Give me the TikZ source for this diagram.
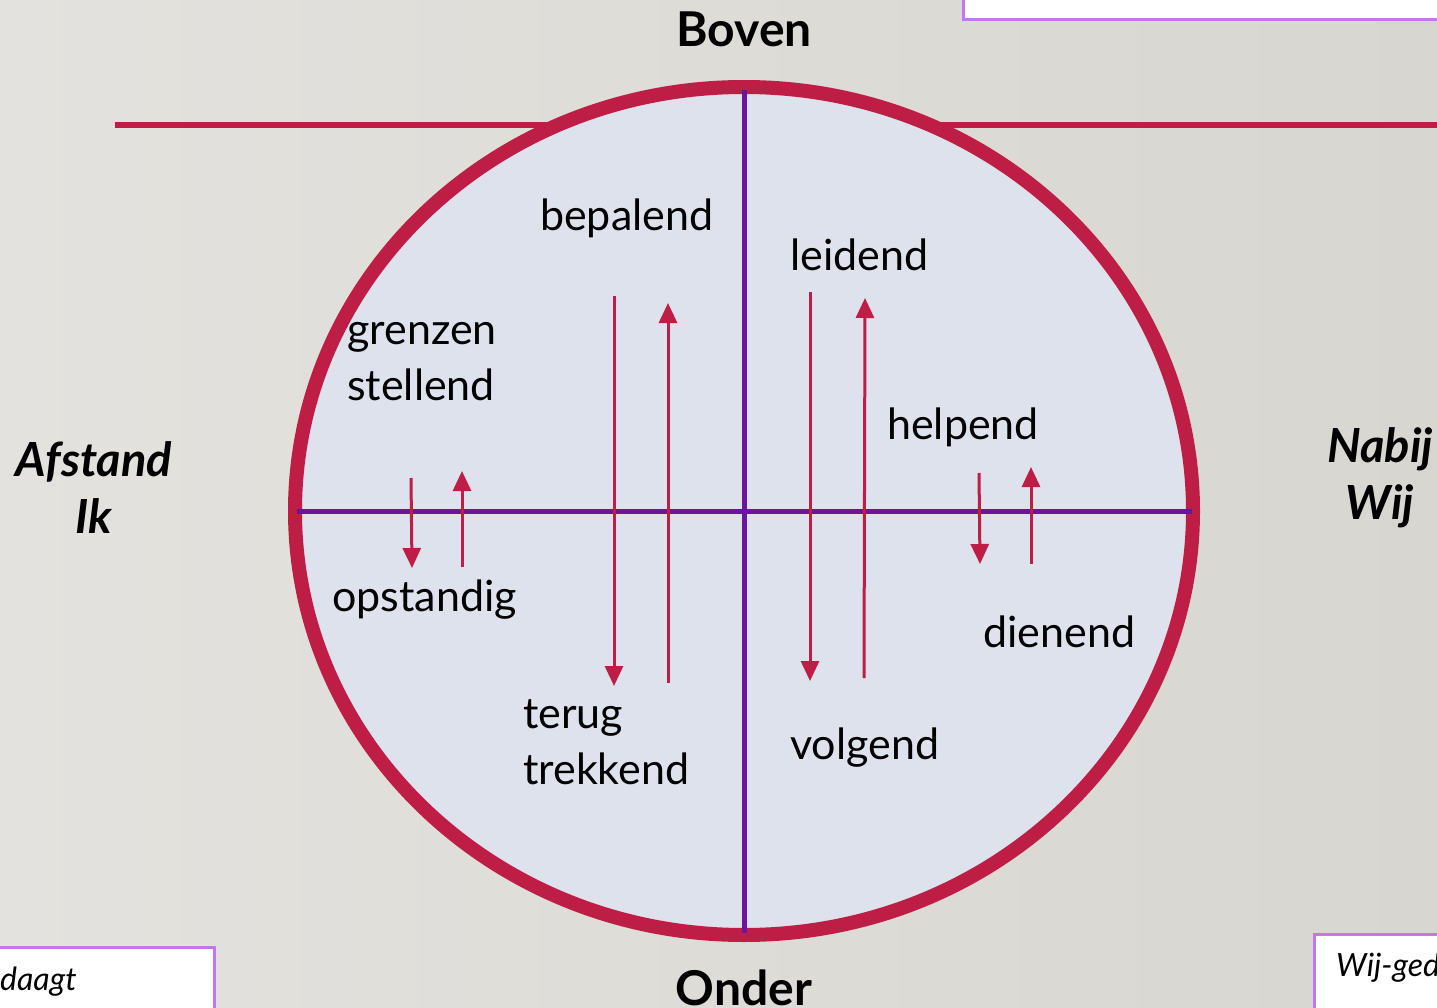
\documentclass[tikz,border=0pt]{standalone}
\usepackage{fontspec}
\setmainfont{Lato}
\usetikzlibrary{arrows.meta}
\definecolor{bgA}{HTML}{E4E2DE}
\definecolor{bgB}{HTML}{D8D6D0}
\definecolor{crim}{HTML}{BE1E45}
\definecolor{purp}{HTML}{6A14A0}
\definecolor{disc}{HTML}{DEE2EC}
\definecolor{boxb}{HTML}{C078F0}
\tikzset{
  lbl/.style={font=\fontsize{43}{56}\selectfont, inner sep=0pt, anchor=west, align=left},
  side/.style={font=\fontsize{47}{57}\selectfont\bfseries\itshape, inner sep=0pt, align=center},
  pole/.style={font=\fontsize{48}{50}\selectfont\bfseries, inner sep=0pt},
  arr/.style={draw=crim, line width=3pt, -{Triangle[length=20pt,width=18pt]}},
  cbox/.style={draw=boxb, line width=3pt, fill=white},
  boxtxt/.style={font=\fontsize{32}{38}\selectfont\itshape, inner sep=0pt, anchor=west}
}
\begin{document}
\begin{tikzpicture}[x=1pt,y=-1pt]
\useasboundingbox (0,0) rectangle (1437,1008);
\clip (0,0) rectangle (1437,1008);
\shade[left color=bgA, right color=bgB] (0,0) rectangle (1437,1008);
% boxes
\draw[cbox] (963,-20) rectangle (1460,20);
\draw[cbox] (-20,947) rectangle (214,1030);
\node[boxtxt] (daagt) at (0,982) {daagt};
\draw[cbox] (1314,934) rectangle (1460,1030);
\node[boxtxt] (wij) at (1336,968) {Wij-ged};
% horizontal red line
\coordinate (hl) at (115,125);
\coordinate (hr) at (1437,125);
\draw[crim, line width=6pt] (hl) -- (hr);
% circle
\coordinate (c) at (744,511);
\draw[crim, fill=disc, line width=14pt] (c) ellipse [x radius=449, y radius=424];
% axes
\coordinate (vt) at (744,90);
\coordinate (vb) at (744,933);
\coordinate (hlft) at (297,511);
\coordinate (hrt) at (1192,511);
\draw[purp, line width=5pt] (vt) -- (vb);
\draw[purp, line width=5pt] (hlft) -- (hrt);
% arrows
\coordinate (a1s) at (411,478); \coordinate (a1e) at (412,568);
\coordinate (a2s) at (462,567); \coordinate (a2e) at (462,471);
\coordinate (a3s) at (614,296); \coordinate (a3e) at (614,686);
\coordinate (a4s) at (668,683); \coordinate (a4e) at (668,303);
\coordinate (a5s) at (810,292); \coordinate (a5e) at (810,681);
\coordinate (a6s) at (864,678); \coordinate (a6e) at (865,298);
\coordinate (a7s) at (979,473); \coordinate (a7e) at (980,564);
\coordinate (a8s) at (1031,564); \coordinate (a8e) at (1031,467);
\foreach \s/\e in {a1s/a1e,a2s/a2e,a3s/a3e,a4s/a4e,a5s/a5e,a6s/a6e,a7s/a7e,a8s/a8e}
  \draw[arr] (\s) -- (\e);
% labels
\node[lbl] (bep) at (540,218) {bepalend};
\node[lbl] (lei) at (790,255) {leidend};
\node[lbl] (gre) at (347,362) {grenzen\\stellend};
\node[lbl] (hel) at (887,427) {helpend};
\node[lbl] (ops) at (332,600) {opstandig};
\node[lbl] (die) at (983,632) {dienend};
\node[lbl] (ter) at (523,742) {terug\\trekkend};
\node[lbl] (vol) at (790,748) {volgend};
\node[pole] (bov) at (744,29) {Boven};
\node[pole] (ond) at (744,988) {Onder};
\node[side] (afs) at (94,488) {Afstand\\Ik};
\node[side] (nab) at (1380,478) {Nabij\\Wij};
\end{tikzpicture}
\end{document}
